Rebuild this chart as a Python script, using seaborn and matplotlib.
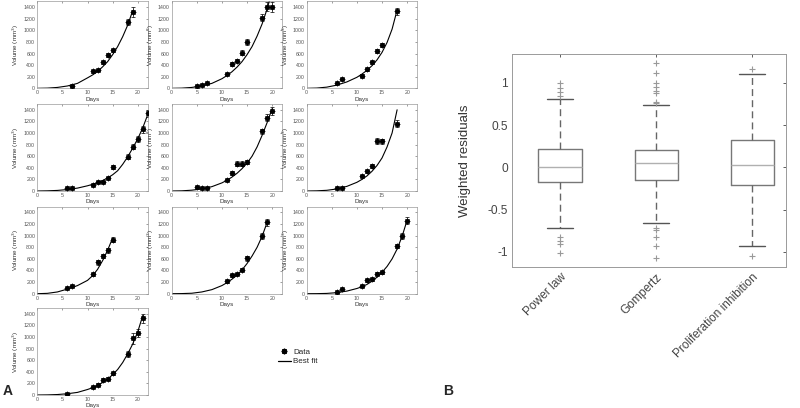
import matplotlib
matplotlib.use("Agg")
import numpy as np
import pandas as pd
import matplotlib.pyplot as plt
from matplotlib.lines import Line2D
import seaborn as sns

sns.set_style("white")
plt.rcParams['font.family'] = ['Liberation Sans', 'DejaVu Sans']

# ---- panel A: tumour volumes per mouse (mean +- sd) ----
days = [
    [7, 11, 12, 13, 14, 15, 18, 19],
    [5, 6, 7, 11, 12, 13, 14, 15, 18, 19, 20],
    [6, 7, 11, 12, 13, 14, 15, 18],
    [6, 7, 11, 12, 13, 14, 15, 18, 19, 20, 21, 22],
    [5, 6, 7, 11, 12, 13, 14, 15, 18, 19, 20],
    [6, 7, 11, 12, 13, 14, 15, 18],
    [6, 7, 11, 12, 13, 14, 15],
    [11, 12, 13, 14, 15, 18, 19],
    [6, 7, 11, 12, 13, 14, 15, 18, 19, 20],
    [6, 11, 12, 13, 14, 15, 18, 19, 20, 21],
]
volumes = [
    [45, 297, 319, 448, 577, 655, 1137, 1316],
    [45, 56, 84, 252, 420, 476, 616, 800, 1215, 1410, 1400],
    [84, 157, 218, 325, 448, 644, 745, 1330],
    [46, 46, 104, 150, 161, 219, 420, 593, 766, 900, 1065, 1340],
    [68, 57, 57, 188, 313, 473, 473, 501, 1026, 1260, 1385],
    [46, 57, 256, 342, 433, 860, 855, 1157],
    [90, 129, 332, 540, 652, 747, 933],
    [213, 315, 337, 416, 607, 1000, 1230],
    [22, 73, 135, 230, 247, 343, 371, 820, 1000, 1260],
    [17, 136, 181, 261, 283, 374, 709, 975, 1066, 1321],
]
errors = [
    [15, 25, 20, 30, 30, 30, 50, 90],
    [10, 10, 15, 20, 30, 30, 40, 50, 60, 70, 80],
    [15, 20, 25, 30, 30, 40, 40, 60],
    [10, 10, 15, 15, 15, 20, 35, 40, 50, 50, 60, 60],
    [10, 10, 10, 20, 30, 40, 40, 40, 50, 60, 70],
    [10, 10, 20, 25, 30, 50, 50, 60],
    [10, 15, 25, 40, 40, 40, 50],
    [20, 25, 20, 25, 40, 50, 60],
    [10, 10, 15, 20, 20, 25, 25, 40, 50, 60],
    [10, 15, 20, 25, 25, 30, 50, 90, 70, 80],
]
# best fit curves read at these days (each list stops at its last day)
fit_grid = [0, 2, 4, 6, 8, 10, 11, 12, 13, 14, 15, 16, 17, 18, 19, 20, 21, 22]
fit_volumes = [
    [0, 3, 15, 40, 85, 180, 230, 290, 370, 460, 580, 720, 890, 1090, 1340],
    [0, 3, 15, 40, 85, 165, 220, 285, 365, 460, 580, 720, 900, 1110, 1370, 1680],
    [0, 4, 20, 55, 110, 190, 245, 310, 390, 490, 620, 790, 1020, 1350],
    [0, 3, 10, 25, 50, 90, 115, 145, 180, 225, 280, 350, 460, 590, 740, 900, 1090, 1320],
    [0, 3, 14, 35, 75, 140, 185, 240, 305, 385, 480, 600, 760, 960, 1180, 1420],
    [0, 3, 12, 35, 80, 150, 200, 260, 340, 440, 570, 760, 1000, 1400],
    [0, 6, 30, 80, 140, 230, 310, 420, 570, 750, 960],
    [0, 2, 8, 30, 70, 140, 190, 250, 320, 410, 520, 650, 800, 990, 1230],
    [0, 1, 5, 18, 45, 90, 120, 160, 215, 285, 370, 470, 600, 770, 990, 1270],
    [0, 2, 8, 22, 45, 95, 125, 165, 215, 275, 350, 440, 560, 710, 880, 1090, 1370],
]

# ---- panel B: weighted residual box plot summary ----
models = ['Power law', 'Gompertz', 'Proliferation inhibition']
q1 = [-0.18, -0.155, -0.205]
medians = [0.005, 0.045, 0.025]
q3 = [0.22, 0.20, 0.325]
whisk_lo = [-0.72, -0.66, -0.93]
whisk_hi = [0.81, 0.74, 1.10]
outliers = [
    [1.0, 0.94, 0.89, 0.84, -0.82, -0.87, -0.91, -1.01],
    [1.23, 1.12, 1.0, 0.95, 0.90, 0.88, 0.77, 0.76, -0.72, -0.74, -0.82, -0.93, -1.07],
    [1.16, -1.05],
]

W, H = 800, 408
fig = plt.figure(figsize=(W / 100, H / 100), dpi=100)

col_left = [37.3, 171.7, 306.7]
row_bottom = [88.3, 191, 293.7, 395]
ax_w, ax_h = 110.5, 87
grid_pos = [(0, 0), (0, 1), (0, 2), (1, 0), (1, 1), (1, 2), (2, 0), (2, 1), (2, 2), (3, 0)]
spine_col = '#9a9a9a'

for i, (r, c) in enumerate(grid_pos):
    ax = fig.add_axes([col_left[c] / W, 1 - row_bottom[r] / H, ax_w / W, ax_h / H])
    fit = pd.DataFrame({'day': fit_grid[:len(fit_volumes[i])], 'vol': fit_volumes[i]})
    obs = pd.DataFrame({'day': days[i], 'vol': volumes[i], 'sd': errors[i]})
    sns.lineplot(data=fit, x='day', y='vol', ax=ax, color='black', lw=0.8)
    ax.errorbar(obs['day'], obs['vol'], yerr=obs['sd'], fmt='none',
                ecolor='black', elinewidth=0.5, capsize=1.2, capthick=0.5)
    sns.scatterplot(data=obs, x='day', y='vol', ax=ax, marker=(8, 2, 0),
                    s=10, color='black', linewidth=0.9, zorder=3)
    ax.set_xlim(0, 22)
    ax.set_ylim(0, 1500)
    ax.set_xticks([0, 5, 10, 15, 20])
    ax.set_yticks(range(0, 1401, 200))
    ax.tick_params(labelsize=3.8, length=1.5, width=0.4, direction='in',
                   top=True, right=True, colors='#555555', pad=1.5)
    for s in ax.spines.values():
        s.set_color(spine_col)
        s.set_linewidth(0.5)
    ax.set_xlabel('Days', fontsize=4.5, labelpad=1, color='#333333')
    ax.set_ylabel('Volume (mm$^3$)', fontsize=4.5, labelpad=1.5, color='#333333')

handles = [Line2D([], [], ls='none', marker=(8, 2, 0), color='black', ms=4, mew=1.0),
           Line2D([], [], color='black', lw=0.9)]
fig.legend(handles, ['Data', 'Best fit'], loc='center left',
           bbox_to_anchor=(274 / W, 1 - 357 / H), frameon=False, fontsize=5.8,
           handlelength=1.6, handletextpad=0.3, labelspacing=0.2, borderpad=0)

# panel B
axb = fig.add_axes([512 / W, 1 - 267 / H, 274 / W, 213 / H])
stats = []
for k, name in enumerate(models):
    stats.append({'label': name, 'q1': q1[k], 'med': medians[k], 'q3': q3[k],
                  'whislo': whisk_lo[k], 'whishi': whisk_hi[k], 'fliers': outliers[k]})
axb.bxp(stats, positions=[1, 2, 3], widths=0.45, capwidths=0.27,
        boxprops=dict(color='#777777', lw=1.0),
        medianprops=dict(color='#b0b0b0', lw=1.0),
        whiskerprops=dict(color='#666666', lw=1.0, ls=(0, (5, 3))),
        capprops=dict(color='#555555', lw=1.0),
        flierprops=dict(marker='+', markeredgecolor='#999999', markersize=4, mew=0.8))
axb.set_xlim(0.5, 3.35)
axb.set_ylim(-1.18, 1.34)
axb.set_yticks([-1, -0.5, 0, 0.5, 1])
axb.set_yticklabels(['-1', '-0.5', '0', '0.5', '1'])
axb.set_xticks([1, 2, 3])
axb.set_xticklabels(models, rotation=45, ha='right', rotation_mode='anchor')
axb.tick_params(labelsize=8.6, length=2.5, width=0.6, direction='in',
                top=True, right=True, colors='#444444', pad=3)
for s in axb.spines.values():
    s.set_color(spine_col)
    s.set_linewidth(0.7)
axb.set_ylabel('Weighted residuals', fontsize=9.5, color='#333333', labelpad=12)

fig.text(3 / W, 1 - 391 / H, 'A', fontsize=10, fontweight='bold', va='center')
fig.text(443 / W, 1 - 391 / H, 'B', fontsize=10, fontweight='bold', va='center')

fig.savefig('out.png', dpi=100)
